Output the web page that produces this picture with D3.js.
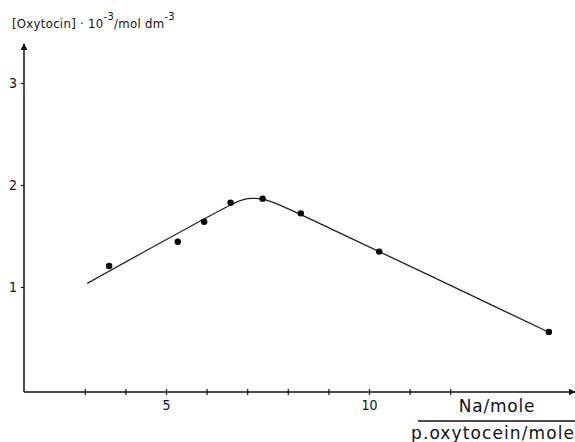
<!DOCTYPE html>
<html>
<head>
<meta charset="utf-8">
<script src="https://cdn.jsdelivr.net/npm/d3@7"></script>
<style>
  body { margin: 0; background: #fff; }
  svg { display: block; font-family: "Liberation Sans", Arial, sans-serif; }
</style>
</head>
<body>
<div id="chart"></div>
<script>
// punts mesurats
const naRatio = [3.60, 5.29, 5.94, 6.59, 7.38, 8.32, 10.25, 14.43];
const oxytocin = [1.206, 1.444, 1.64, 1.826, 1.866, 1.722, 1.347, 0.56];

// corba ajustada (llegida del gràfic)
const fitX = [3.06, 6.59, 6.85, 7.1, 7.4, 7.7, 9.04, 14.43];
const fitY = [1.036, 1.804, 1.85, 1.868, 1.86, 1.82, 1.575, 0.556];

// ticks
const xTicks = [3, 4, 5, 6, 7, 8, 9, 10, 11, 12];
const xTickLabels = [5, 10];
const yTicks = [1, 2, 3];

const width = 575, height = 442;
const axisX0 = 24, axisY0 = 392, axisTop = 44;

const svg = d3.select("#chart")
    .append("svg")
        .attr("width", width)
        .attr("height", height);

const x = d3.scaleLinear().domain([5, 10]).range([166, 369]);
const y = d3.scaleLinear().domain([1, 3]).range([287, 83]);

// fletxes
const defs = svg.append("defs");
defs.append("marker")
    .attr("id", "arrow")
    .attr("viewBox", "0 0 10 10")
    .attr("refX", 9).attr("refY", 5)
    .attr("markerWidth", 7).attr("markerHeight", 7)
    .attr("markerUnits", "userSpaceOnUse")
    .attr("orient", "auto")
    .append("path")
        .attr("d", "M0,0 L10,5 L0,10 Z")
        .attr("fill", "#111");

// eix Y
svg.append("line")
    .attr("x1", axisX0).attr("y1", axisY0)
    .attr("x2", axisX0).attr("y2", axisTop)
    .attr("stroke", "#111").attr("stroke-width", 1.5)
    .attr("marker-end", "url(#arrow)");

// eix X
svg.append("line")
    .attr("x1", axisX0).attr("y1", axisY0)
    .attr("x2", width).attr("y2", axisY0)
    .attr("stroke", "#111").attr("stroke-width", 1.5)
    .attr("marker-end", "url(#arrow)");

// ticks X
const gx = svg.append("g")
    .attr("transform", `translate(0, ${axisY0})`)
    .call(d3.axisBottom(x).tickValues(xTicks).tickSize(3)
        .tickFormat(d => xTickLabels.includes(d) ? d : ""));
gx.select(".domain").remove();
gx.selectAll(".tick line").attr("y1", -3).attr("y2", 3).attr("stroke", "#111").attr("stroke-width", 1.2);
gx.selectAll(".tick text")
    .attr("y", 8)
    .style("font-size", "14px")
    .style("font-family", "DejaVu Sans Condensed, sans-serif")
    .attr("fill", "#111");

// ticks Y
const gy = svg.append("g")
    .attr("transform", `translate(${axisX0}, 0)`)
    .call(d3.axisLeft(y).tickValues(yTicks).tickSize(3).tickFormat(d3.format("d")));
gy.select(".domain").remove();
gy.selectAll(".tick line").attr("stroke", "#111").attr("stroke-width", 1.2);
gy.selectAll(".tick text")
    .attr("x", -7)
    .style("font-size", "14px")
    .style("font-family", "DejaVu Sans Condensed, sans-serif")
    .attr("fill", "#111");

// corba
const fitData = fitX.map((v, i) => ({x: v, y: fitY[i]}));
svg.append("path")
    .datum(fitData)
    .attr("fill", "none")
    .attr("stroke", "#222")
    .attr("stroke-width", 1.3)
    .attr("d", d3.line().x(d => x(d.x)).y(d => y(d.y)).curve(d3.curveCatmullRom.alpha(0.5)));

// punts
svg.selectAll(".punt")
    .data(naRatio.map((v, i) => ({x: v, y: oxytocin[i]})))
    .enter()
    .append("circle")
        .attr("class", "punt")
        .attr("cx", d => x(d.x))
        .attr("cy", d => y(d.y))
        .attr("r", 3.2)
        .attr("fill", "#000");

// títol eix Y
const t = svg.append("text")
    .attr("x", 12)
    .attr("y", 28)
    .style("font-size", "13px")
    .style("letter-spacing", "0.3px")
    .style("font-family", "DejaVu Sans Condensed, sans-serif")
    .attr("fill", "#111");
t.append("tspan").text("[Oxytocin] · 10");
t.append("tspan").attr("dy", -8).style("font-size", "11px").text("-3");
t.append("tspan").attr("dy", 8).text("/mol dm");
t.append("tspan").attr("dy", -8).style("font-size", "11px").text("-3");

// títol eix X (fracció)
svg.append("text")
    .attr("x", 497)
    .attr("y", 412)
    .attr("text-anchor", "middle")
    .style("font-size", "17px")
    .style("letter-spacing", "0.8px")
    .style("font-family", "DejaVu Sans, sans-serif")
    .attr("fill", "#111")
    .text("Na/mole");

svg.append("line")
    .attr("x1", 418).attr("y1", 421)
    .attr("x2", width).attr("y2", 421)
    .attr("stroke", "#111").attr("stroke-width", 1.5);

svg.append("text")
    .attr("x", 411)
    .attr("y", 439)
    .style("font-size", "17px")
    .style("letter-spacing", "1.1px")
    .style("font-family", "DejaVu Sans, sans-serif")
    .attr("fill", "#111")
    .text("p.oxytocein/mole");
</script>
</body>
</html>
